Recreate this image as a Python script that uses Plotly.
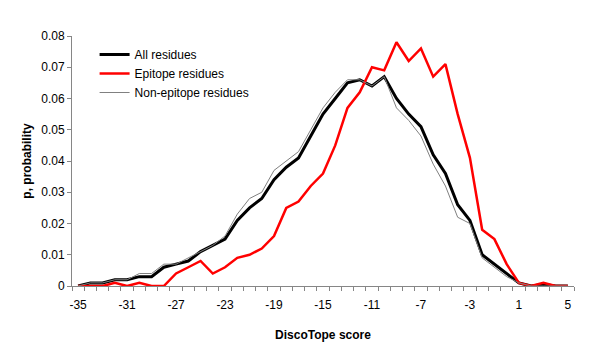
import plotly.graph_objects as go

scores = list(range(-35, 6))

all_residues = [0, 0.001, 0.001, 0.002, 0.002, 0.003, 0.003, 0.006, 0.007, 0.008,
                0.011, 0.013, 0.015, 0.021, 0.025, 0.028, 0.034, 0.038, 0.041, 0.048,
                0.055, 0.060, 0.065, 0.066, 0.064, 0.067, 0.060, 0.055, 0.051, 0.042,
                0.036, 0.026, 0.021, 0.010, 0.007, 0.004, 0.001, 0, 0.0005, 0, 0]

epitope = [0, 0, 0, 0.001, 0, 0.001, 0, 0, 0.004, 0.006,
           0.008, 0.004, 0.006, 0.009, 0.010, 0.012, 0.016, 0.025, 0.027, 0.032,
           0.036, 0.045, 0.057, 0.062, 0.070, 0.069, 0.078, 0.072, 0.076, 0.067,
           0.071, 0.055, 0.041, 0.018, 0.015, 0.007, 0.001, 0, 0.001, 0, 0]

non_epitope = [0, 0.001, 0.001, 0.002, 0.002, 0.004, 0.004, 0.007, 0.007, 0.009,
               0.011, 0.013, 0.016, 0.023, 0.028, 0.030, 0.037, 0.040, 0.043, 0.050,
               0.057, 0.062, 0.066, 0.066, 0.064, 0.067, 0.057, 0.053, 0.048, 0.039,
               0.032, 0.022, 0.020, 0.009, 0.006, 0.003, 0.001, 0, 0, 0, 0]

x_tick_vals = list(range(-35, 6, 4))
x_tick_text = [str(v) for v in x_tick_vals]
y_tick_vals = [0, 0.01, 0.02, 0.03, 0.04, 0.05, 0.06, 0.07, 0.08]
y_tick_text = ["0", "0.01", "0.02", "0.03", "0.04", "0.05", "0.06", "0.07", "0.08"]

FONT = "Liberation Sans, Arial, sans-serif"

fig = go.Figure()
fig.add_trace(go.Scatter(x=scores, y=all_residues, mode="lines", name="All residues",
                         line=dict(color="#000000", width=3)))
fig.add_trace(go.Scatter(x=scores, y=epitope, mode="lines", name="Epitope residues",
                         line=dict(color="#ff0000", width=2.5)))
fig.add_trace(go.Scatter(x=scores, y=non_epitope, mode="lines", name="Non-epitope residues",
                         line=dict(color="#808080", width=1)))

fig.update_layout(
    width=600, height=355,
    margin=dict(l=64, r=34, t=28, b=77),
    paper_bgcolor="white", plot_bgcolor="white",
    font=dict(family=FONT, size=12, color="#000000"),
    showlegend=True,
    legend=dict(x=0.045, y=0.984, xanchor="left", yanchor="top",
                bgcolor="rgba(0,0,0,0)", font=dict(family=FONT, size=12),
                tracegroupgap=0, itemwidth=30),
    xaxis=dict(
        range=[-35.5, 5.5],
        tickmode="array", tickvals=x_tick_vals, ticktext=x_tick_text,
        ticks="outside", ticklen=8, tickcolor="rgba(0,0,0,0)",
        showline=True, linecolor="#868686", linewidth=1,
        showgrid=False, zeroline=False,
        minor=dict(tickmode="linear", tick0=-35.5, dtick=1, ticks="outside",
                   ticklen=4, tickcolor="#868686", showgrid=False),
        tickfont=dict(size=12),
        title=dict(text="<b>DiscoTope score</b>", font=dict(size=12), standoff=19),
    ),
    yaxis=dict(
        range=[0, 0.08],
        tickmode="array", tickvals=y_tick_vals, ticktext=y_tick_text,
        ticks="outside", ticklen=4, tickcolor="#868686",
        showline=True, linecolor="#868686", linewidth=1,
        showgrid=False, zeroline=False,
        tickfont=dict(size=12),
        title=dict(text="<b>p, probability</b>", font=dict(size=12), standoff=7),
    ),
)

fig.write_html("out.html")
